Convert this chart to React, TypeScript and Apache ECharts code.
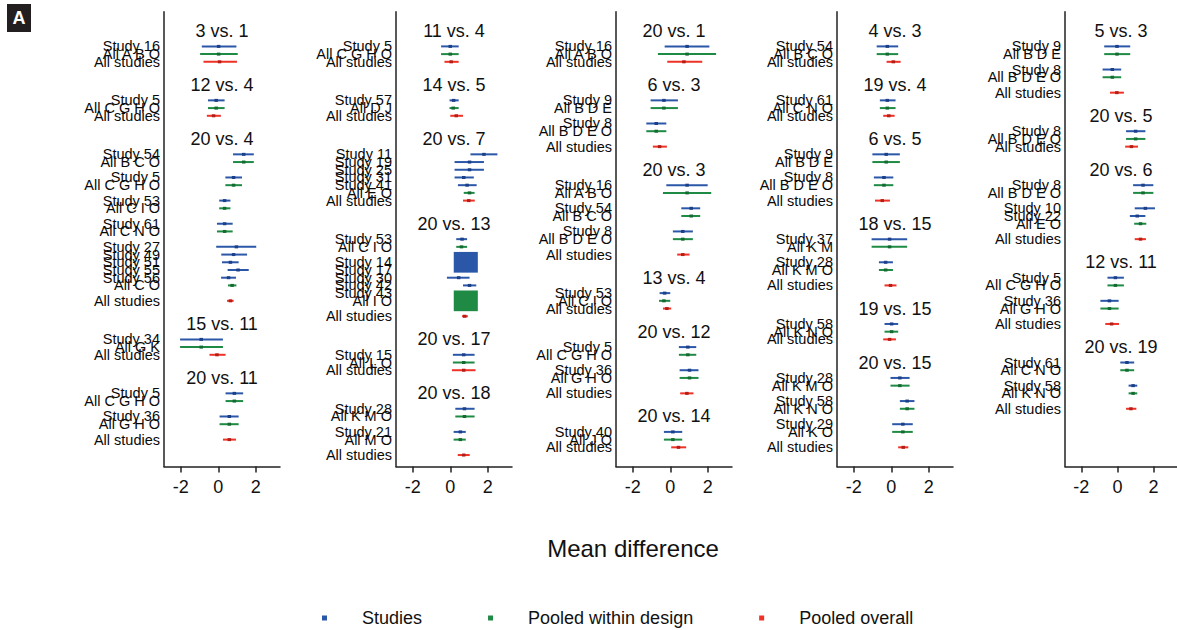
import React, { useEffect, useRef } from "react";
import * as echarts from "echarts";

type Est = [string, number, number, number, number?];
interface Design { studies: Est[]; pooled: Est }
interface Cmp { title: string; designs: Design[]; overall: [number, number, number] }

const seriesNames = ["Studies", "Pooled within design", "Pooled overall"];
const overallLabel = "All studies";
const xTicks = [-2, 0, 2];
const xAxisTitle = "Mean difference";
const panelTag = "A";

const panel1: Cmp[] = [
  { title: "3 vs. 1", designs: [{ studies: [["Study 16", -0.88, 0.02, 0.97]], pooled: ["All A B O", -0.97, 0.02, 1.04] }], overall: [-0.79, 0.07, 1.0] },
  { title: "12 vs. 4", designs: [{ studies: [["Study 5", -0.55, -0.11, 0.34]], pooled: ["All C G H O", -0.55, -0.11, 0.34] }], overall: [-0.61, -0.25, 0.14] },
  {
    title: "20 vs. 4",
    designs: [
      { studies: [["Study 54", 0.79, 1.36, 1.9]], pooled: ["All B C O", 0.79, 1.36, 1.9] },
      { studies: [["Study 5", 0.38, 0.82, 1.27]], pooled: ["All C G H O", 0.38, 0.82, 1.27] },
      { studies: [["Study 53", 0.05, 0.34, 0.65]], pooled: ["All C I O", 0.05, 0.34, 0.65] },
      { studies: [["Study 61", -0.07, 0.34, 0.77]], pooled: ["All C N O", -0.07, 0.34, 0.77] },
      {
        studies: [
          ["Study 27", -0.11, 0.97, 2.03],
          ["Study 49", 0.16, 0.82, 1.54],
          ["Study 51", 0.2, 0.65, 1.09],
          ["Study 55", 0.5, 1.06, 1.63],
          ["Study 56", 0.15, 0.55, 0.95],
        ],
        pooled: ["All C O", 0.52, 0.74, 0.97],
      },
    ],
    overall: [0.47, 0.65, 0.82],
  },
  { title: "15 vs. 11", designs: [{ studies: [["Study 34", -2.04, -0.91, 0.25]], pooled: ["All G K", -2.04, -0.91, 0.25] }], overall: [-0.47, -0.07, 0.39] },
  {
    title: "20 vs. 11",
    designs: [
      { studies: [["Study 5", 0.39, 0.86, 1.33]], pooled: ["All C G H O", 0.39, 0.86, 1.33] },
      { studies: [["Study 36", 0.07, 0.59, 1.09]], pooled: ["All G H O", 0.07, 0.59, 1.09] },
    ],
    overall: [0.25, 0.59, 0.95],
  },
];

const panel2: Cmp[] = [
  { title: "11 vs. 4", designs: [{ studies: [["Study 5", -0.49, 0.0, 0.45]], pooled: ["All C G H O", -0.49, 0.0, 0.45] }], overall: [-0.31, 0.05, 0.45] },
  { title: "14 vs. 5", designs: [{ studies: [["Study 57", -0.04, 0.18, 0.45]], pooled: ["All D J", -0.04, 0.16, 0.45] }], overall: [0.0, 0.32, 0.68] },
  {
    title: "20 vs. 7",
    designs: [
      {
        studies: [
          ["Study 11", 1.08, 1.8, 2.52],
          ["Study 19", 0.23, 1.03, 1.8],
          ["Study 25", 0.23, 1.03, 1.8],
          ["Study 31", 0.23, 0.72, 1.26],
          ["Study 41", 0.41, 0.9, 1.41],
        ],
        pooled: ["All E O", 0.72, 1.03, 1.3],
      },
    ],
    overall: [0.68, 0.99, 1.31],
  },
  {
    title: "20 vs. 13",
    designs: [
      { studies: [["Study 53", 0.32, 0.63, 0.9]], pooled: ["All C I O", 0.32, 0.6, 0.9] },
      {
        studies: [
          ["Study 14", 0.55, 0.83, 1.1, 64],
          ["Study 17", 0.4, 0.8, 1.2],
          ["Study 30", -0.18, 0.45, 1.03],
          ["Study 42", 0.68, 1.03, 1.39],
          ["Study 43", 0.5, 0.85, 1.2],
        ],
        pooled: ["All I O", 0.55, 0.83, 1.1, 64],
      },
    ],
    overall: [0.63, 0.77, 0.94],
  },
  { title: "20 vs. 17", designs: [{ studies: [["Study 15", 0.14, 0.72, 1.3]], pooled: ["All L O", 0.14, 0.72, 1.3] }], overall: [0.09, 0.72, 1.35] },
  {
    title: "20 vs. 18",
    designs: [
      { studies: [["Study 28", 0.27, 0.76, 1.3]], pooled: ["All K M O", 0.27, 0.76, 1.3] },
      { studies: [["Study 21", 0.18, 0.54, 0.83]], pooled: ["All M O", 0.18, 0.54, 0.83] },
    ],
    overall: [0.4, 0.72, 1.04],
  },
];

const panel3: Cmp[] = [
  { title: "20 vs. 1", designs: [{ studies: [["Study 16", -0.3, 0.9, 2.09]], pooled: ["All A B O", -0.66, 0.9, 2.45] }], overall: [-0.16, 0.73, 1.71] },
  {
    title: "6 vs. 3",
    designs: [
      { studies: [["Study 9", -1.05, -0.34, 0.41]], pooled: ["All B D E", -1.05, -0.34, 0.41] },
      { studies: [["Study 8", -1.28, -0.75, -0.21]], pooled: ["All B D E O", -1.28, -0.75, -0.21] },
    ],
    overall: [-0.93, -0.57, -0.18],
  },
  {
    title: "20 vs. 3",
    designs: [
      { studies: [["Study 16", -0.21, 0.9, 2.0]], pooled: ["All A B O", -0.39, 0.9, 2.19] },
      { studies: [["Study 54", 0.59, 1.12, 1.6]], pooled: ["All B C O", 0.59, 1.12, 1.6] },
      { studies: [["Study 8", 0.14, 0.67, 1.21]], pooled: ["All B D E O", 0.14, 0.67, 1.21] },
    ],
    overall: [0.37, 0.67, 1.03],
  },
  { title: "13 vs. 4", designs: [{ studies: [["Study 53", -0.57, -0.3, 0.0]], pooled: ["All C I O", -0.6, -0.34, 0.0] }], overall: [-0.39, -0.18, 0.05] },
  {
    title: "20 vs. 12",
    designs: [
      { studies: [["Study 5", 0.46, 0.94, 1.39]], pooled: ["All C G H O", 0.46, 0.94, 1.39] },
      { studies: [["Study 36", 0.5, 1.03, 1.51]], pooled: ["All G H O", 0.5, 1.03, 1.51] },
    ],
    overall: [0.53, 0.89, 1.24],
  },
  { title: "20 vs. 14", designs: [{ studies: [["Study 40", -0.34, 0.14, 0.64]], pooled: ["All J O", -0.34, 0.14, 0.64] }], overall: [0.05, 0.44, 0.85] },
];

const panel4: Cmp[] = [
  { title: "4 vs. 3", designs: [{ studies: [["Study 54", -0.78, -0.21, 0.37]], pooled: ["All B C O", -0.78, -0.21, 0.37] }], overall: [-0.25, 0.11, 0.5] },
  { title: "19 vs. 4", designs: [{ studies: [["Study 61", -0.61, -0.21, 0.23]], pooled: ["All C N O", -0.61, -0.21, 0.23] }], overall: [-0.43, -0.13, 0.18] },
  {
    title: "6 vs. 5",
    designs: [
      { studies: [["Study 9", -1.01, -0.27, 0.46]], pooled: ["All B D E", -1.01, -0.27, 0.46] },
      { studies: [["Study 8", -0.93, -0.39, 0.11]], pooled: ["All B D E O", -0.93, -0.39, 0.11] },
    ],
    overall: [-0.87, -0.48, -0.07],
  },
  {
    title: "18 vs. 15",
    designs: [
      { studies: [["Study 37", -1.05, -0.09, 0.85]], pooled: ["All K M", -1.05, -0.09, 0.85] },
      { studies: [["Study 28", -0.66, -0.3, 0.09]], pooled: ["All K M O", -0.66, -0.3, 0.09] },
    ],
    overall: [-0.36, -0.04, 0.28],
  },
  { title: "19 vs. 15", designs: [{ studies: [["Study 58", -0.36, 0.02, 0.37]], pooled: ["All K N O", -0.36, 0.02, 0.37] }], overall: [-0.43, -0.09, 0.25] },
  {
    title: "20 vs. 15",
    designs: [
      { studies: [["Study 28", -0.04, 0.46, 0.98]], pooled: ["All K M O", -0.04, 0.46, 0.98] },
      { studies: [["Study 58", 0.46, 0.85, 1.24]], pooled: ["All K N O", 0.46, 0.85, 1.24] },
      { studies: [["Study 29", 0.05, 0.62, 1.15]], pooled: ["All K O", 0.05, 0.62, 1.15] },
    ],
    overall: [0.37, 0.64, 0.91],
  },
];

const panel5: Cmp[] = [
  {
    title: "5 vs. 3",
    designs: [
      { studies: [["Study 9", -0.73, -0.02, 0.71]], pooled: ["All B D E", -0.73, -0.02, 0.71] },
      { studies: [["Study 8", -0.82, -0.28, 0.21]], pooled: ["All B D E O", -0.82, -0.28, 0.21] },
    ],
    overall: [-0.41, -0.03, 0.36],
  },
  { title: "20 vs. 5", designs: [{ studies: [["Study 8", 0.48, 1.01, 1.55]], pooled: ["All B D E O", 0.48, 1.01, 1.55] }], overall: [0.43, 0.78, 1.14] },
  {
    title: "20 vs. 6",
    designs: [
      { studies: [["Study 8", 0.87, 1.42, 1.99]], pooled: ["All B D E O", 0.87, 1.42, 1.99] },
      { studies: [["Study 10", 0.96, 1.55, 2.08], ["Study 22", 0.69, 1.1, 1.55]], pooled: ["All E O", 0.93, 1.28, 1.6] },
    ],
    overall: [0.96, 1.28, 1.58],
  },
  {
    title: "12 vs. 11",
    designs: [
      { studies: [["Study 5", -0.55, -0.11, 0.36]], pooled: ["All C G H O", -0.55, -0.11, 0.36] },
      { studies: [["Study 36", -0.94, -0.44, 0.07]], pooled: ["All G H O", -0.94, -0.44, 0.07] },
    ],
    overall: [-0.67, -0.32, 0.09],
  },
  {
    title: "20 vs. 19",
    designs: [
      { studies: [["Study 61", 0.16, 0.53, 0.93]], pooled: ["All C N O", 0.16, 0.53, 0.93] },
      { studies: [["Study 58", 0.62, 0.87, 1.1]], pooled: ["All K N O", 0.62, 0.87, 1.1] },
    ],
    overall: [0.48, 0.75, 1.05],
  },
];

const panels = [panel1, panel2, panel3, panel4, panel5];

// layout / style constants
const X_MIN = -2.9;
const X_MAX = 3.3;
const N_ROWS = 59;
const OFF = 2;
const gridLefts = [164, 396, 616, 837, 1065];
const GRID_W = 116;
const GRID_TOP = 11.7;
const GRID_H = 454.9;
const FONT = "'Liberation Sans', Arial, Helvetica, sans-serif";
const lineColors = ["#2b57a8", "#1e8a43", "#ee3226"];
const markColors = ["#1b3f88", "#136b31", "#b51d15"];

function buildPanel(cmps: Cmp[]) {
  const labels: string[] = new Array(N_ROWS).fill("");
  const titles: number[][] = [];
  const titleText: string[] = [];
  const groups: number[][][] = [[], [], []];
  let r = 0;
  for (const c of cmps) {
    titles.push([(X_MIN + X_MAX) / 2, r + OFF]);
    titleText.push(c.title);
    r += 2;
    c.designs.forEach((d, di) => {
      if (di > 0) r++;
      for (const e of d.studies) {
        labels[r + OFF] = e[0];
        groups[0].push([e[1], e[2], e[3], r + OFF, e[4] ?? 1]);
        r++;
      }
      const p = d.pooled;
      labels[r + OFF] = p[0];
      groups[1].push([p[1], p[2], p[3], r + OFF, p[4] ?? 1]);
      r++;
    });
    if (c.designs.length > 1) r++;
    labels[r + OFF] = overallLabel;
    groups[2].push([c.overall[0], c.overall[1], c.overall[2], r + OFF, 1]);
    r++;
    r += 2;
  }
  return { labels, titles, titleText, groups };
}

function makeRender(k: number) {
  return (params: any, api: any) => {
    const row = api.value(3);
    const lo = api.coord([api.value(0), row]);
    const hi = api.coord([api.value(2), row]);
    const ce = api.coord([api.value(1), row]);
    const w = api.value(4);
    const big = w > 1;
    const bw = 3.5 * Math.sqrt(w) * (big ? 0.86 : 1);
    const bh = big ? bw * 0.86 : 3;
    return {
      type: "group",
      children: [
        {
          type: "line",
          shape: { x1: lo[0], y1: lo[1], x2: hi[0], y2: hi[1] },
          style: { stroke: lineColors[k], lineWidth: 2 },
          z2: 1,
        },
        {
          type: "rect",
          shape: { x: ce[0] - bw / 2, y: ce[1] - bh / 2, width: bw, height: bh },
          style: { fill: big ? lineColors[k] : markColors[k] },
          z2: big ? 20 : 5,
        },
      ],
    };
  };
}

export default function App() {
  const ref = useRef<HTMLDivElement>(null);
  useEffect(() => {
    if (!ref.current) return;
    const chart = echarts.init(ref.current, undefined, { renderer: "svg" });
    const grid: any[] = [];
    const xAxis: any[] = [];
    const yAxis: any[] = [];
    const series: any[] = [];
    panels.forEach((panel, i) => {
      const { labels, titles, titleText, groups } = buildPanel(panel);
      grid.push({ left: gridLefts[i], top: GRID_TOP, width: GRID_W, height: GRID_H });
      xAxis.push({
        gridIndex: i,
        type: "value",
        min: X_MIN,
        max: X_MAX,
        axisLine: { show: true, onZero: false, lineStyle: { color: "#222", width: 1.5 } },
        axisTick: { show: true, length: 6, customValues: xTicks, lineStyle: { color: "#222", width: 1.5 } },
        axisLabel: { customValues: xTicks, fontSize: 18, margin: 11, color: "#111", fontFamily: FONT },
        splitLine: { show: false },
      });
      yAxis.push({
        gridIndex: i,
        type: "category",
        inverse: true,
        data: labels,
        axisLine: { show: true, onZero: false, lineStyle: { color: "#222", width: 1.5 } },
        axisTick: { show: false },
        axisLabel: { interval: 0, fontSize: 14.5, margin: 4, color: "#0a0a0a", fontFamily: FONT },
        splitLine: { show: false },
      });
      groups.forEach((g, k) => {
        series.push({
          type: "custom",
          name: seriesNames[k],
          xAxisIndex: i,
          yAxisIndex: i,
          data: g,
          encode: { x: [0, 1, 2], y: 3 },
          itemStyle: { color: lineColors[k] },
          renderItem: makeRender(k),
          silent: true,
        });
      });
      series.push({
        type: "custom",
        name: "comparison",
        xAxisIndex: i,
        yAxisIndex: i,
        data: titles,
        encode: { x: 0, y: 1 },
        silent: true,
        renderItem: (params: any, api: any) => {
          const p = api.coord([api.value(0), api.value(1)]);
          return {
            type: "text",
            x: p[0],
            y: p[1],
            style: {
              text: titleText[params.dataIndex],
              fontSize: 18,
              fontFamily: FONT,
              fill: "#111",
              align: "center",
              verticalAlign: "middle",
            },
          };
        },
      });
    });

    chart.setOption({
      animation: false,
      backgroundColor: "#ffffff",
      textStyle: { fontFamily: FONT },
      grid,
      xAxis,
      yAxis,
      series,
      legend: {
        data: seriesNames,
        left: 322,
        top: 609,
        padding: 0,
        itemWidth: 5,
        itemHeight: 5,
        itemGap: 66,
        icon: "rect",
        selectedMode: false,
        textStyle: { fontSize: 18, color: "#111", padding: [0, 0, 0, 30], fontFamily: FONT },
      },
      graphic: [
        { type: "rect", shape: { x: 7, y: 4, width: 24, height: 28 }, style: { fill: "#231f20" } },
        {
          type: "text",
          x: 19,
          y: 18,
          style: { text: panelTag, fill: "#fff", fontSize: 18, fontWeight: "bold", fontFamily: FONT, align: "center", verticalAlign: "middle" },
        },
        {
          type: "text",
          x: 633,
          y: 548,
          style: { text: xAxisTitle, fill: "#111", fontSize: 24, fontFamily: FONT, align: "center", verticalAlign: "middle" },
        },
      ],
    });
    return () => chart.dispose();
  }, []);
  return <div ref={ref} style={{ position: "absolute", left: 0, top: 0, width: 1177, height: 630, background: "#fff" }} />;
}
